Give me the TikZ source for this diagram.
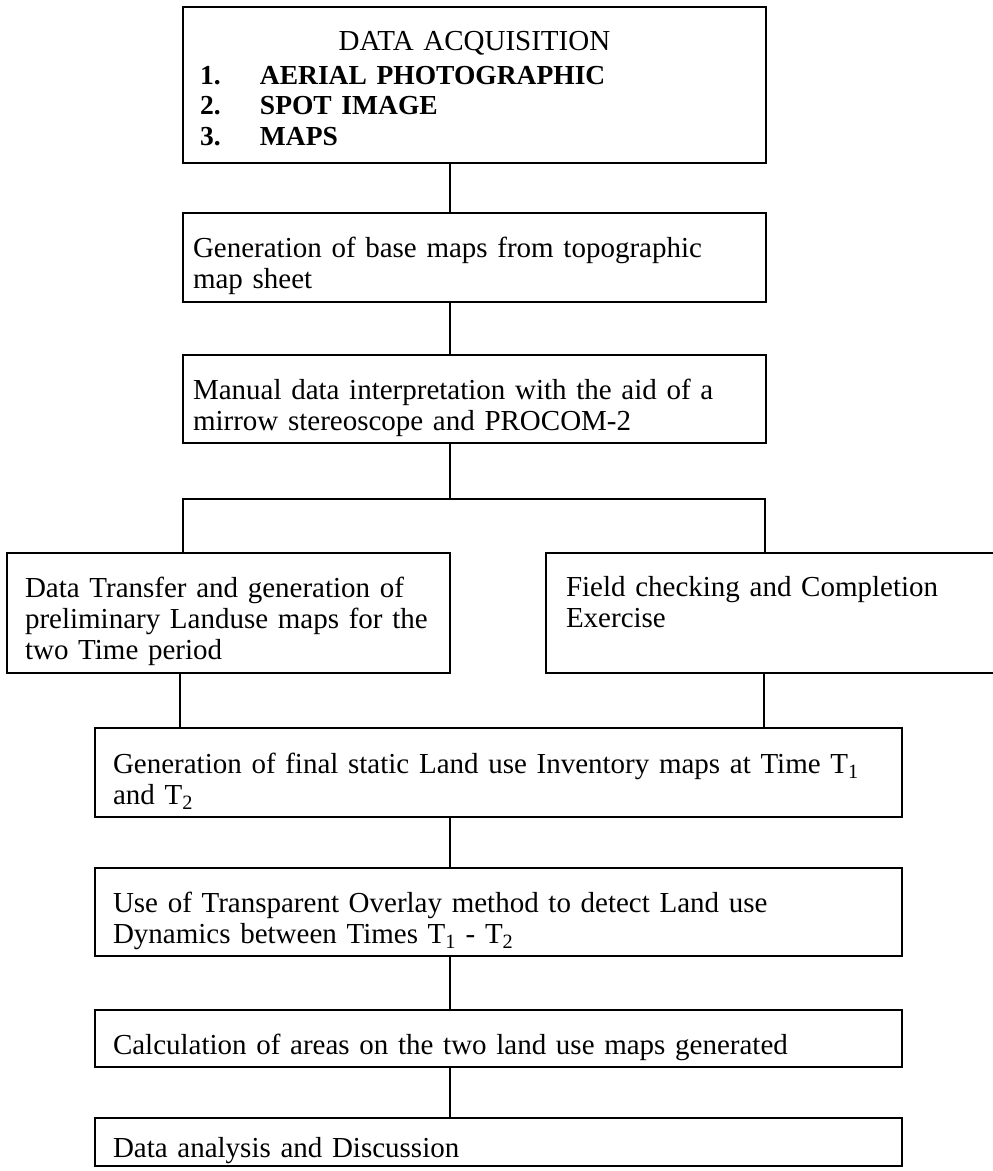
\documentclass[tikz,border=0pt]{standalone}
\usepackage{fontspec}
\setmainfont{Liberation Serif}
\setlength{\parindent}{0pt}
% taller first line, so that the text sits a little low in each box
\newcommand{\toppad}{\rule{0pt}{38pt}}
\newcommand{\itemno}[1]{\makebox[60pt][l]{#1}}
\begin{document}
\begin{tikzpicture}[x=1pt,y=-1pt,
  box/.style={draw, rectangle, line width=2.4pt, anchor=north west,
    outer sep=0pt, inner ysep=0pt, align=left,
    font=\fontsize{29}{31}\selectfont},
  link/.style={line width=2.2pt}]
\useasboundingbox (0,0) rectangle (993,1171);

% flow boxes
\node[box, minimum width=583pt, minimum height=156pt, text width=549pt, inner xsep=17pt]
  (b1) at (183,7)
  {\rule{0pt}{26pt}\makebox[549pt]{DATA ACQUISITION}\\[4pt]
   {\bfseries\fontsize{27.5}{30}\selectfont
   \itemno{1.}AERIAL PHOTOGRAPHIC\\
   \itemno{2.}SPOT IMAGE\\
   \itemno{3.}MAPS}};
\node[box, minimum width=583pt, minimum height=89pt, text width=563pt, inner xsep=10pt]
  (b2) at (183,213)
  {\toppad Generation of base maps from topographic\\map sheet};
\node[box, minimum width=583pt, minimum height=88pt, text width=563pt, inner xsep=10pt]
  (b3) at (183,355)
  {\toppad Manual data interpretation with the aid of a\\mirrow stereoscope and PROCOM-2};
\node[box, minimum width=443pt, minimum height=120pt, text width=407pt, inner xsep=18pt]
  (b4) at (7,553)
  {\toppad Data Transfer and generation of\\preliminary Landuse maps for the\\two Time period};
\node[box, minimum width=460pt, minimum height=120pt, text width=420pt, inner xsep=20pt]
  (b5) at (546,553)
  {\toppad Field checking and Completion\\Exercise\\\strut};
\node[box, minimum width=807pt, minimum height=89pt, text width=771pt, inner xsep=18pt]
  (b6) at (95,728)
  {\toppad Generation of final static Land use Inventory maps at Time T\textsubscript{1}\\and T\textsubscript{2}};
\node[box, minimum width=807pt, minimum height=88pt, text width=771pt, inner xsep=18pt]
  (b7) at (95,868)
  {\toppad Use of Transparent Overlay method to detect Land use\\Dynamics between Times T\textsubscript{1} - T\textsubscript{2}};
\node[box, minimum width=807pt, minimum height=57pt, text width=771pt, inner xsep=18pt]
  (b8) at (95,1010)
  {\toppad Calculation of areas on the two land use maps generated};
\node[box, minimum width=807pt, minimum height=48pt, text width=771pt, inner xsep=18pt]
  (b9) at (95,1118)
  {\toppad Data analysis and Discussion};

% stem and branch positions
\coordinate (sx) at (450,0);
\coordinate (jl) at (183,499);
\coordinate (jr) at (765,499);
\coordinate (dl) at (180,0);
\coordinate (dr) at (764,0);

% connectors
\draw[link] (b1.south -| sx) -- (b2.north -| sx);
\draw[link] (b2.south -| sx) -- (b3.north -| sx);
\draw[link] (b3.south -| sx) -- (sx |- jl);
\draw[link] (b4.north -| jl) -- (jl) -- (jr) -- (b5.north -| jr);
\draw[link] (b4.south -| dl) -- (b6.north -| dl);
\draw[link] (b5.south -| dr) -- (b6.north -| dr);
\draw[link] (b6.south -| sx) -- (b7.north -| sx);
\draw[link] (b7.south -| sx) -- (b8.north -| sx);
\draw[link] (b8.south -| sx) -- (b9.north -| sx);
\end{tikzpicture}
\end{document}
